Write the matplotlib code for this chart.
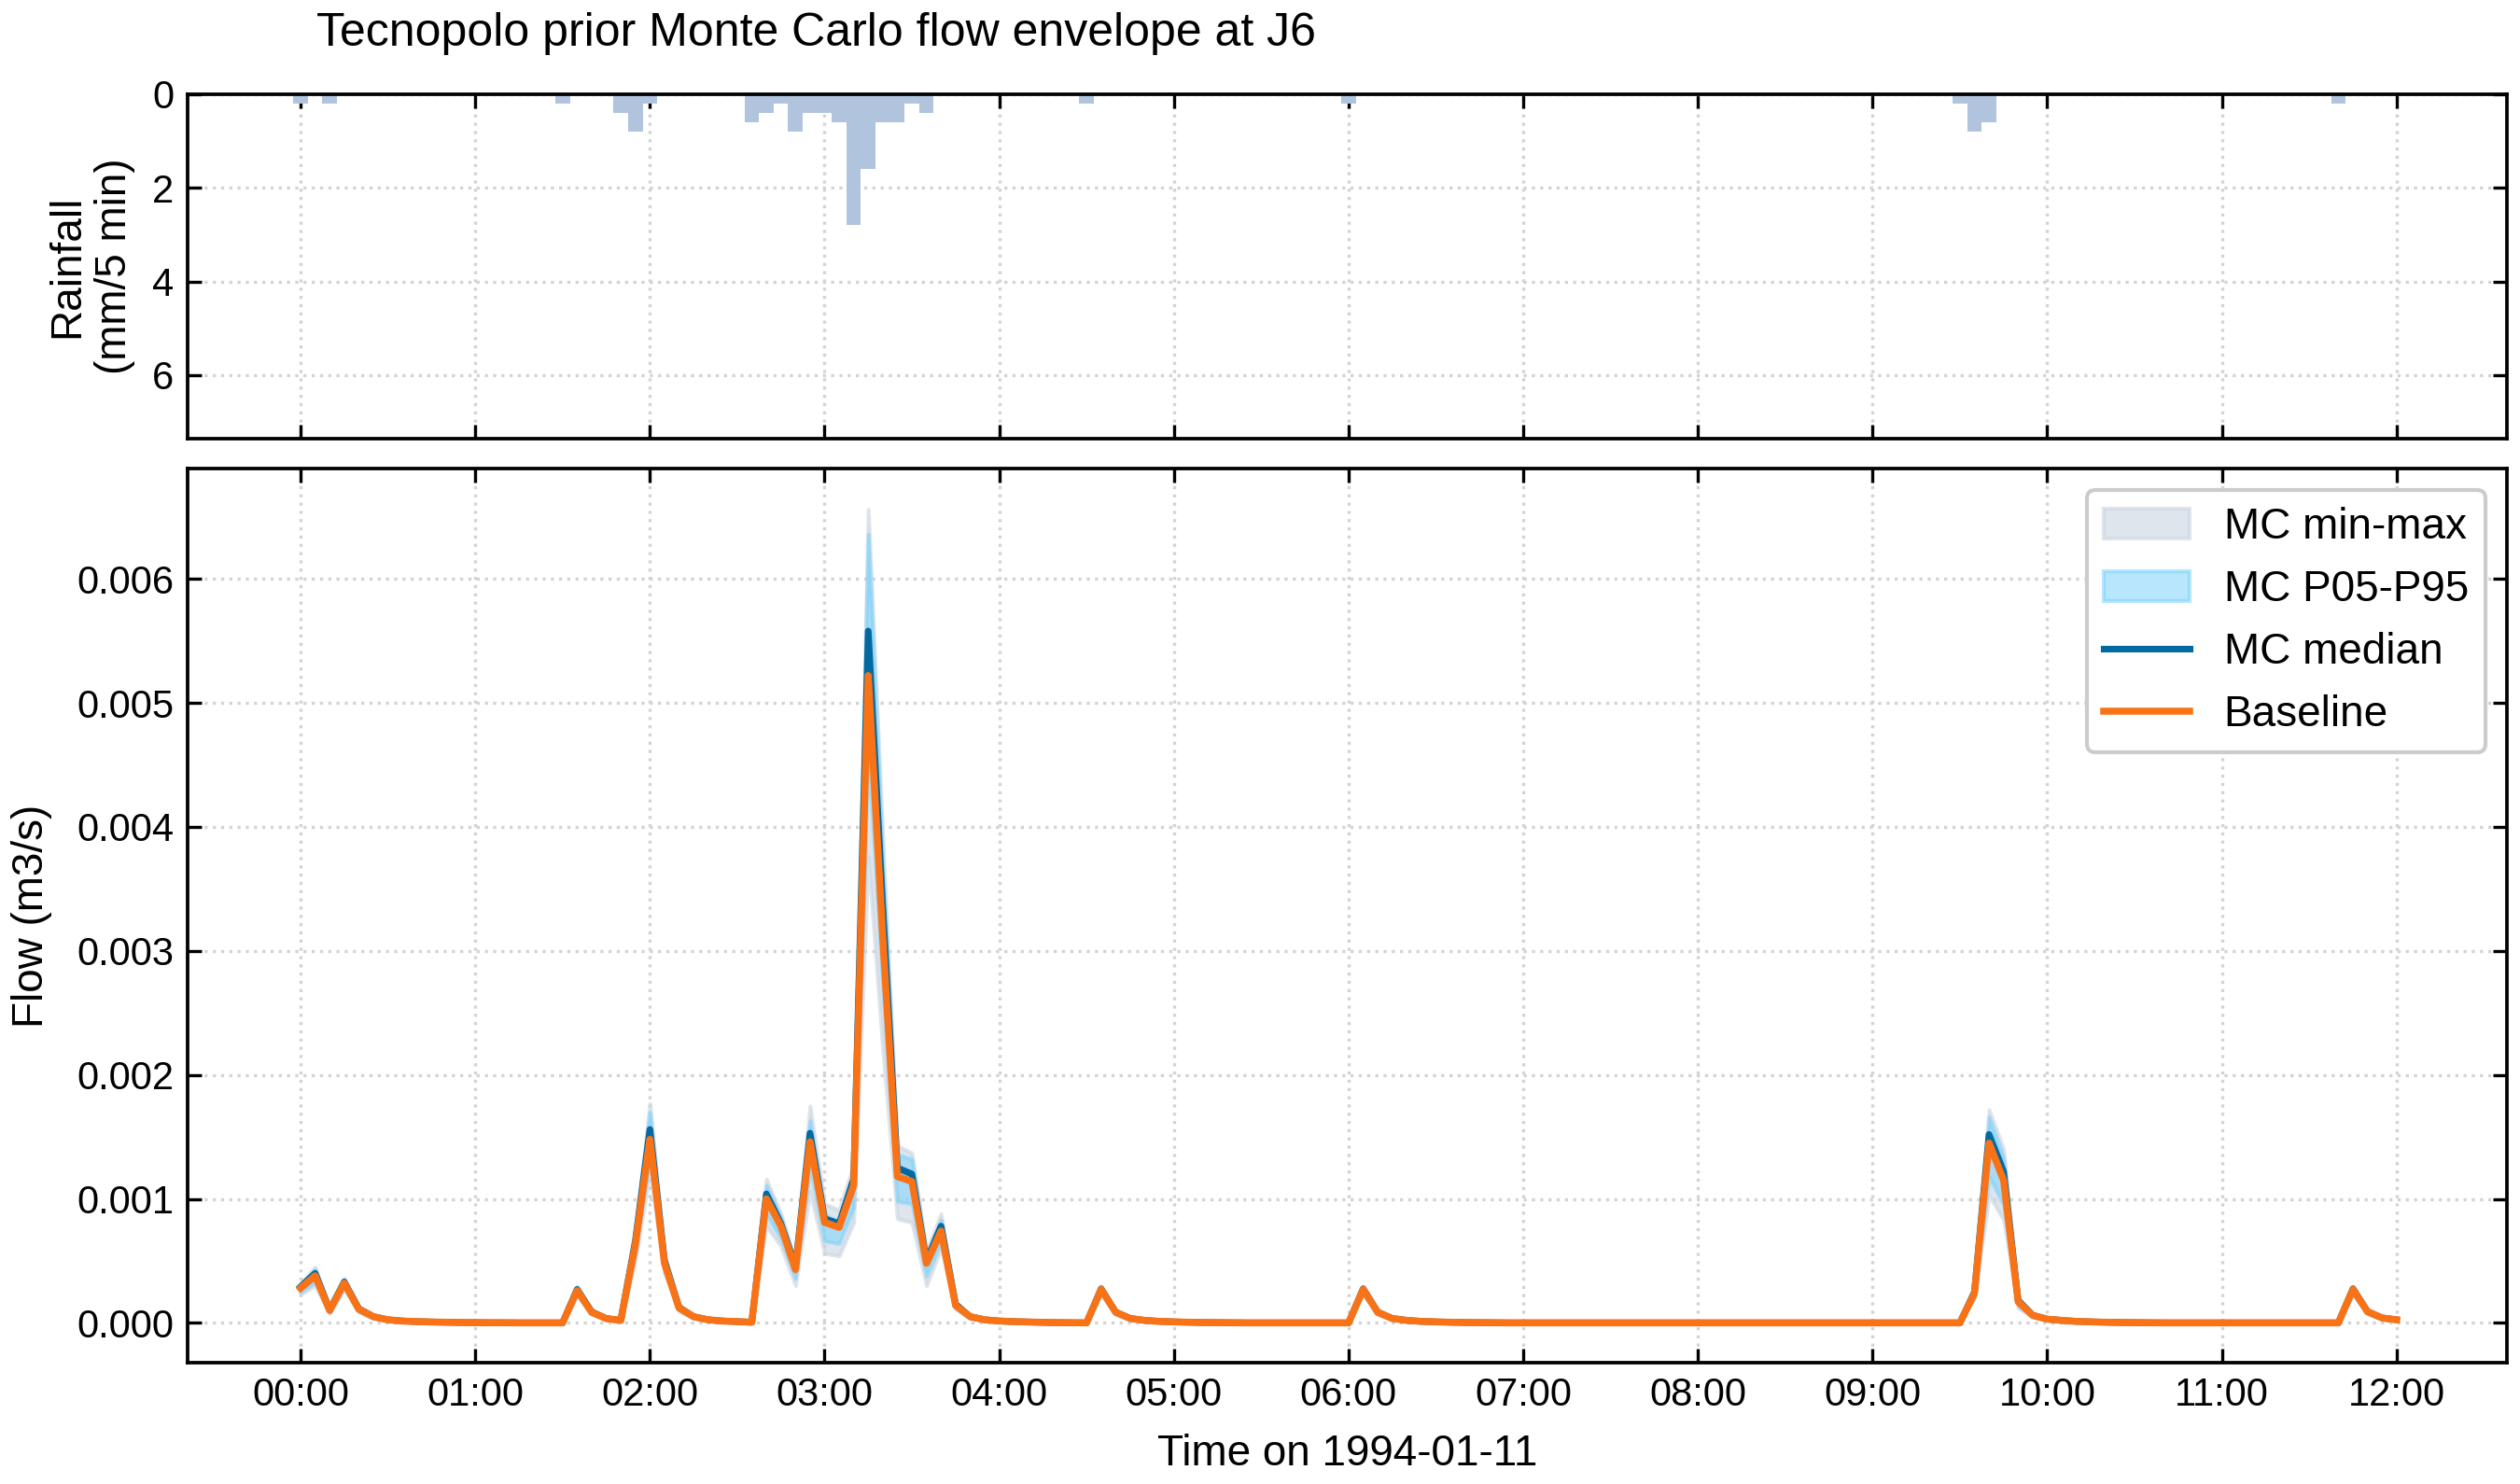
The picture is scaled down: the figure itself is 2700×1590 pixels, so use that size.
import numpy as np
import pandas as pd
import matplotlib
matplotlib.use("Agg")
import matplotlib.pyplot as plt
import matplotlib.dates as mdates

plt.rcParams['font.family'] = ['Liberation Sans', 'DejaVu Sans']

# ---------------- data ----------------
START = "1994-01-11 00:00"
N_STEPS = 145            # 5-min steps from 00:00 to 12:00
FLOW_UNIT = 1e-5         # flow values below are in 1e-5 m3/s

# rainfall (mm / 5 min), one row per hour (12 steps), last value = 12:00
rain = [
    0.2, 0, 0.2, 0, 0, 0, 0, 0, 0, 0, 0, 0,
    0, 0, 0, 0, 0, 0, 0.2, 0, 0, 0, 0.4, 0.8,
    0.2, 0, 0, 0, 0, 0, 0, 0.6, 0.4, 0.2, 0.8, 0.4,
    0.4, 0.6, 2.8, 1.6, 0.6, 0.6, 0.2, 0.4, 0, 0, 0, 0,
    0, 0, 0, 0, 0, 0, 0.2, 0, 0, 0, 0, 0,
    0, 0, 0, 0, 0, 0, 0, 0, 0, 0, 0, 0,
    0.2, 0, 0, 0, 0, 0, 0, 0, 0, 0, 0, 0,
    0, 0, 0, 0, 0, 0, 0, 0, 0, 0, 0, 0,
    0, 0, 0, 0, 0, 0, 0, 0, 0, 0, 0, 0,
    0, 0, 0, 0, 0, 0, 0.2, 0.8, 0.6, 0, 0, 0,
    0, 0, 0, 0, 0, 0, 0, 0, 0, 0, 0, 0,
    0, 0, 0, 0, 0, 0, 0, 0, 0.2, 0, 0, 0,
    0,
]

baseline = [
    28, 38, 10, 32, 11, 5, 2.5, 1.5, 1, 0.7, 0.5, 0.3,
    0.2, 0.1, 0.1, 0, 0, 0, 0, 26, 8.5, 3.5, 2, 63,
    148, 48, 12, 5, 2.5, 1.5, 1, 0.5, 100, 78, 43, 146,
    81, 77, 111, 522, 310, 118, 114, 48, 74, 14, 5, 2.5,
    1.5, 1, 0.7, 0.4, 0.2, 0.1, 0, 27, 8.5, 3.5, 2, 1.2,
    0.8, 0.5, 0.3, 0.2, 0.1, 0, 0, 0, 0, 0, 0, 0,
    0, 27, 8.5, 3.5, 2, 1.2, 0.8, 0.5, 0.3, 0.2, 0.1, 0,
    0, 0, 0, 0, 0, 0, 0, 0, 0, 0, 0, 0,
    0, 0, 0, 0, 0, 0, 0, 0, 0, 0, 0, 0,
    0, 0, 0, 0, 0, 0, 0, 24, 145, 115, 17, 6,
    3, 2, 1.2, 0.8, 0.5, 0.3, 0.2, 0.1, 0, 0, 0, 0,
    0, 0, 0, 0, 0, 0, 0, 0, 0, 27, 9, 4,
    2.5,
]

mc_median = [
    29, 40, 10.5, 33, 11.5, 5, 2.5, 1.5, 1, 0.7, 0.5, 0.3,
    0.2, 0.1, 0.1, 0, 0, 0, 0, 27, 9, 3.5, 2, 66,
    156, 50, 12.5, 5, 2.5, 1.5, 1, 0.5, 104, 80, 45, 153,
    84, 80, 116, 558, 335, 125, 120, 50, 78, 15, 5, 2.5,
    1.5, 1, 0.7, 0.4, 0.2, 0.1, 0, 27.5, 8.7, 3.6, 2, 1.2,
    0.8, 0.5, 0.3, 0.2, 0.1, 0, 0, 0, 0, 0, 0, 0,
    0, 27.5, 8.7, 3.6, 2, 1.2, 0.8, 0.5, 0.3, 0.2, 0.1, 0,
    0, 0, 0, 0, 0, 0, 0, 0, 0, 0, 0, 0,
    0, 0, 0, 0, 0, 0, 0, 0, 0, 0, 0, 0,
    0, 0, 0, 0, 0, 0, 0, 25, 152, 122, 18, 6.2,
    3, 2, 1.2, 0.8, 0.5, 0.3, 0.2, 0.1, 0, 0, 0, 0,
    0, 0, 0, 0, 0, 0, 0, 0, 0, 27.5, 9.2, 4,
    2.5,
]

mc_p95 = [
    31, 43, 11.5, 35, 12, 5.5, 2.8, 1.7, 1.1, 0.8, 0.6, 0.35,
    0.25, 0.12, 0.1, 0, 0, 0, 0, 28.5, 9.5, 3.8, 2.2, 70,
    170, 53, 13.5, 5.5, 2.8, 1.7, 1.1, 0.6, 111, 85, 48, 163,
    87, 82, 124, 636, 370, 136, 132, 53, 83, 16, 5.5, 2.8,
    1.7, 1.1, 0.8, 0.45, 0.25, 0.12, 0, 28.5, 9, 3.8, 2.2, 1.3,
    0.9, 0.55, 0.35, 0.25, 0.12, 0, 0, 0, 0, 0, 0, 0,
    0, 28.5, 9, 3.8, 2.2, 1.3, 0.9, 0.55, 0.35, 0.25, 0.12, 0,
    0, 0, 0, 0, 0, 0, 0, 0, 0, 0, 0, 0,
    0, 0, 0, 0, 0, 0, 0, 0, 0, 0, 0, 0,
    0, 0, 0, 0, 0, 0, 0, 27, 166, 133, 20, 6.8,
    3.3, 2.2, 1.3, 0.9, 0.55, 0.35, 0.25, 0.12, 0, 0, 0, 0,
    0, 0, 0, 0, 0, 0, 0, 0, 0, 28.5, 9.7, 4.3,
    2.7,
]

mc_max = [
    32, 45, 12, 36, 12.5, 5.8, 3, 1.8, 1.2, 0.85, 0.65, 0.4,
    0.3, 0.15, 0.1, 0, 0, 0, 0, 29.5, 10, 4, 2.3, 73,
    177, 56, 14.5, 6, 3, 1.8, 1.2, 0.65, 116, 88, 50, 175,
    96, 91, 128, 656, 390, 143, 137, 58, 88, 17, 6, 3,
    1.8, 1.2, 0.85, 0.5, 0.3, 0.15, 0, 29.5, 9.5, 4, 2.3, 1.4,
    1, 0.6, 0.4, 0.3, 0.15, 0, 0, 0, 0, 0, 0, 0,
    0, 29.5, 9.5, 4, 2.3, 1.4, 1, 0.6, 0.4, 0.3, 0.15, 0,
    0, 0, 0, 0, 0, 0, 0, 0, 0, 0, 0, 0,
    0, 0, 0, 0, 0, 0, 0, 0, 0, 0, 0, 0,
    0, 0, 0, 0, 0, 0, 0, 28, 172, 140, 21, 7.2,
    3.5, 2.3, 1.4, 1, 0.6, 0.4, 0.3, 0.15, 0, 0, 0, 0,
    0, 0, 0, 0, 0, 0, 0, 0, 0, 29.5, 10, 4.5,
    2.8,
]

mc_p05 = [
    25, 33, 8.5, 29, 9.5, 4.3, 2.2, 1.3, 0.85, 0.6, 0.4, 0.25,
    0.15, 0.08, 0.05, 0, 0, 0, 0, 23.5, 7.5, 3.1, 1.8, 56,
    133, 44, 10.5, 4.4, 2.2, 1.3, 0.85, 0.4, 88, 68, 36, 126,
    66, 64, 93, 460, 270, 98, 96, 38, 66, 12.5, 4.3, 2.2,
    1.3, 0.85, 0.6, 0.35, 0.15, 0.08, 0, 24.5, 7.7, 3.1, 1.8, 1.05,
    0.7, 0.45, 0.25, 0.15, 0.08, 0, 0, 0, 0, 0, 0, 0,
    0, 24.5, 7.7, 3.1, 1.8, 1.05, 0.7, 0.45, 0.25, 0.15, 0.08, 0,
    0, 0, 0, 0, 0, 0, 0, 0, 0, 0, 0, 0,
    0, 0, 0, 0, 0, 0, 0, 0, 0, 0, 0, 0,
    0, 0, 0, 0, 0, 0, 0, 21, 118, 95, 14, 5.2,
    2.6, 1.8, 1.05, 0.7, 0.45, 0.25, 0.15, 0.08, 0, 0, 0, 0,
    0, 0, 0, 0, 0, 0, 0, 0, 0, 24.5, 8, 3.5,
    2.2,
]

mc_min = [
    23, 30, 7.5, 27, 8.5, 3.8, 2, 1.2, 0.8, 0.55, 0.35, 0.2,
    0.12, 0.06, 0.04, 0, 0, 0, 0, 22, 7, 2.9, 1.7, 50,
    122, 40, 9.5, 4, 2, 1.2, 0.8, 0.35, 78, 62, 30, 106,
    56, 54, 81, 376, 220, 84, 81, 30, 60, 11, 3.9, 2,
    1.2, 0.8, 0.55, 0.3, 0.12, 0.06, 0, 23, 7.2, 2.9, 1.7, 1,
    0.65, 0.4, 0.22, 0.12, 0.06, 0, 0, 0, 0, 0, 0, 0,
    0, 23, 7.2, 2.9, 1.7, 1, 0.65, 0.4, 0.22, 0.12, 0.06, 0,
    0, 0, 0, 0, 0, 0, 0, 0, 0, 0, 0, 0,
    0, 0, 0, 0, 0, 0, 0, 0, 0, 0, 0, 0,
    0, 0, 0, 0, 0, 0, 0, 20, 103, 83, 12, 4.8,
    2.4, 1.7, 1, 0.65, 0.4, 0.22, 0.12, 0.06, 0, 0, 0, 0,
    0, 0, 0, 0, 0, 0, 0, 0, 0, 23, 7.5, 3.2,
    2,
]

flow_ticks = [0.000, 0.001, 0.002, 0.003, 0.004, 0.005, 0.006]
rain_ticks = [0, 2, 4, 6]

# ---------------- figure ----------------
times = pd.date_range(START, periods=N_STEPS, freq="5min")
t = mdates.date2num(times.to_pydatetime())
step = 5.0 / 1440.0

rain_a = np.asarray(rain, dtype=float)
base_a = np.asarray(baseline) * FLOW_UNIT
med_a = np.asarray(mc_median) * FLOW_UNIT
p95_a = np.asarray(mc_p95) * FLOW_UNIT
p05_a = np.asarray(mc_p05) * FLOW_UNIT
max_a = np.asarray(mc_max) * FLOW_UNIT
min_a = np.asarray(mc_min) * FLOW_UNIT

W, H = 2700, 1590
fig = plt.figure(figsize=(9, 5.3), dpi=300)

L = 201 / W
R = 2686 / W
ax_r = fig.add_axes([L, 1 - 470 / H, R - L, (470 - 101) / H])
ax_f = fig.add_axes([L, 1 - 1460 / H, R - L, (1460 - 502) / H], sharex=ax_r)

TICK_FS = 10
LABEL_FS = 11
TITLE_FS = 12

# rainfall panel
mask = rain_a > 0
ax_r.bar(t[mask], rain_a[mask], width=step, color="#b0c4de", align="center", linewidth=0)
ax_r.set_ylim(7.36, 0)
ax_r.set_yticks(rain_ticks)
ax_r.set_ylabel("Rainfall\n(mm/5 min)", fontsize=LABEL_FS)

# flow panel
ax_f.fill_between(t, min_a, max_a, color="#cbd5e1", alpha=0.6, linewidth=1.0, label="MC min-max")
ax_f.fill_between(t, p05_a, p95_a, color="#7dd3fc", alpha=0.55, linewidth=1.0, label="MC P05-P95")
ax_f.plot(t, med_a, color="#0369a1", lw=1.7, label="MC median")
ax_f.plot(t, base_a, color="#f97316", lw=1.8, label="Baseline")
ax_f.set_ylim(-0.000321, 0.00689)
ax_f.set_yticks(flow_ticks)
ax_f.yaxis.set_major_formatter(matplotlib.ticker.FormatStrFormatter("%.3f"))
ax_f.set_ylabel("Flow (m3/s)", fontsize=LABEL_FS)
ax_f.set_xlabel("Time on 1994-01-11", fontsize=LABEL_FS, labelpad=5.2)

x0 = t[0] - 38.8 / 1440.0
x1 = t[-1] + 37.9 / 1440.0
ax_f.set_xlim(x0, x1)
ax_f.xaxis.set_major_locator(mdates.HourLocator(interval=1))
ax_f.xaxis.set_major_formatter(mdates.DateFormatter("%H:%M"))

for ax in (ax_r, ax_f):
    ax.grid(True, linestyle=":", color="#d4d4d4", linewidth=0.8)
    ax.set_axisbelow(True)
    ax.tick_params(direction="in", top=True, right=True, labelsize=TICK_FS,
                   length=3.5, width=0.8)
    ax.minorticks_off()
    for s in ax.spines.values():
        s.set_linewidth(0.9)
plt.setp(ax_r.get_xticklabels(), visible=False)

# y-label placement matching the reference
ax_r.yaxis.set_label_coords(-0.0225, 0.5)
ax_f.yaxis.set_label_coords(-0.0582, 0.5)

leg = ax_f.legend(loc="upper right", fontsize=11, frameon=True, fancybox=True,
                  framealpha=1.0, edgecolor="#cccccc")

fig.text(339 / W, 1 - 49 / H, "Tecnopolo prior Monte Carlo flow envelope at J6",
         fontsize=TITLE_FS, ha="left", va="baseline")

fig.savefig("out.png", dpi=300)
